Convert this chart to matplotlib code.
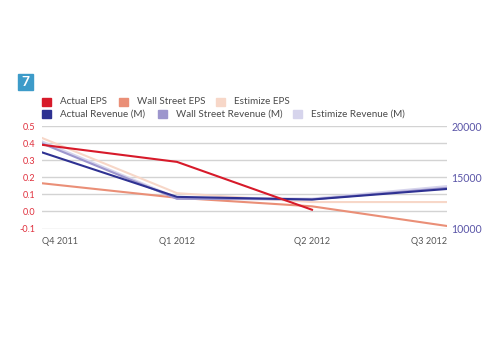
import matplotlib
matplotlib.use("Agg")
import matplotlib.pyplot as plt
from matplotlib.patches import Rectangle

plt.rcParams['font.family'] = ['Lato', 'DejaVu Sans']

quarters = ["Q4 2011", "Q1 2012", "Q2 2012", "Q3 2012"]

# EPS series (left axis)
actual_eps = [0.39, 0.29, 0.01, None]
wallstreet_eps = [0.165, 0.08, 0.03, -0.085]
estimize_eps = [0.43, 0.107, 0.055, 0.055]

# Revenue series in millions (right axis)
actual_rev = [17430, 13090, 12830, 13860]
wallstreet_rev = [18300, 12900, 12850, 13960]
estimize_rev = [18450, 12960, 12880, 14100]

legend_names = ["Actual EPS", "Wall Street EPS", "Estimize EPS",
                "Actual Revenue (M)", "Wall Street Revenue (M)", "Estimize Revenue (M)"]
colors = ["#d71a2a", "#ea8f77", "#f7d7c8", "#2e3192", "#9d96cd", "#d6d4ec"]

fig = plt.figure(figsize=(5, 3.5), dpi=100)
ax = fig.add_axes([0.084, 0.347, 0.81, 0.293])
ax2 = ax.twinx()

x = list(range(len(quarters)))

def clean(vals):
    xs = [i for i, v in zip(x, vals) if v is not None]
    ys = [v for v in vals if v is not None]
    return xs, ys

lw = 1.5
ax.plot(*clean(estimize_eps), color=colors[2], lw=lw, zorder=3)
ax.plot(*clean(wallstreet_eps), color=colors[1], lw=lw, zorder=3)
ax2.plot(x, estimize_rev, color=colors[5], lw=lw + 0.6, zorder=3)
ax2.plot(x, wallstreet_rev, color=colors[4], lw=lw, zorder=3)
ax2.plot(x, actual_rev, color=colors[3], lw=lw, zorder=3)
ax2.plot(*clean(actual_eps), color=colors[0], lw=lw, zorder=4,
         transform=ax.transData)

ax.set_xlim(0, 3)
ax.set_ylim(-0.1, 0.5)
ax2.set_ylim(10000, 20000)

ax.set_yticks([0.5, 0.4, 0.3, 0.2, 0.1, 0.0, -0.1])
ax.set_yticklabels(["0.5", "0.4", "0.3", "0.2", "0.1", "0.0", "-0.1"])
ax2.set_yticks([10000, 15000, 20000])
ax.grid(axis='y', color='#d3d3d3', lw=1)
ax.set_axisbelow(True)

for a in (ax, ax2):
    for s in a.spines.values():
        s.set_visible(False)
    a.tick_params(length=0)

ax.tick_params(axis='y', labelsize=6.5, labelcolor='#e0303d', pad=5)
ax2.tick_params(axis='y', labelsize=7.6, labelcolor='#5b56a8', pad=3)

ax.set_xticks(x)
ax.set_xticklabels(quarters)
ax.tick_params(axis='x', labelsize=6.6, labelcolor='#555555', pad=6)
labels = ax.get_xticklabels()
labels[0].set_ha('left')
labels[-1].set_ha('right')

# badge
W, H = 500, 350
fig.add_artist(Rectangle((18 / W, 1 - 90 / H), 15 / W, 16 / H,
                         transform=fig.transFigure, color='#3d9bc9'))
fig.text(25.5 / W, 1 - 82 / H, "7", color='white', fontsize=10,
         fontweight='bold', ha='center', va='center')

# legend (flow layout)
legend_pos = [(42, 102), (119, 102), (216, 102),
              (42, 114), (158, 114), (293, 114)]
for name, c, (px, py) in zip(legend_names, colors, legend_pos):
    fig.add_artist(Rectangle((px / W, 1 - (py + 4) / H), 8.5 / W, 8.5 / H,
                             transform=fig.transFigure, color=c))
    fig.text((px + 18) / W, 1 - py / H, name, fontsize=7.1,
             color='#4a4a4a', va='center', ha='left')

fig.savefig("out.png", dpi=100)
